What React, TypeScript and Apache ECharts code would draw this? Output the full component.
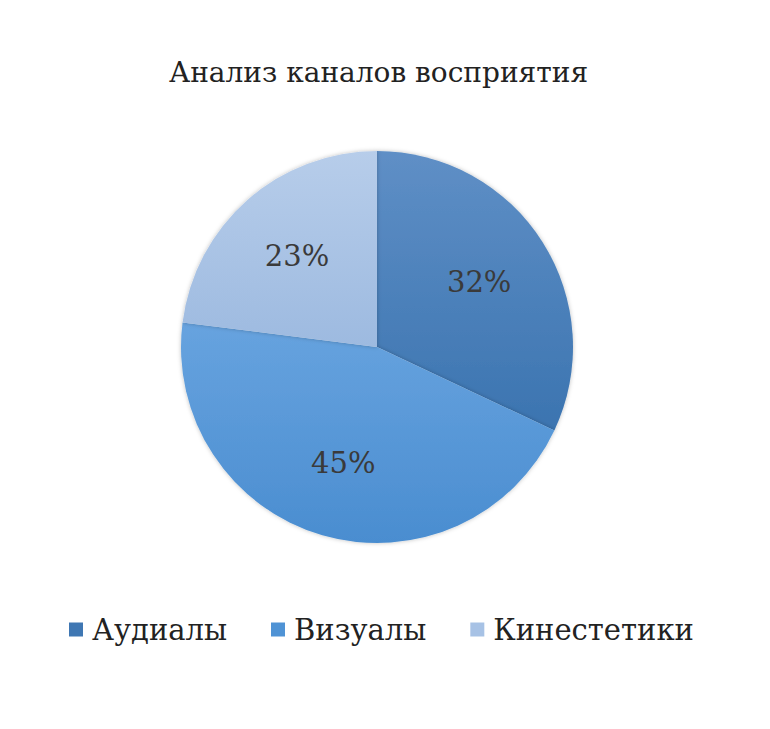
import React, { useEffect, useRef } from "react";
import * as echarts from "echarts";

const categories = ["Аудиалы", "Визуалы", "Кинестетики"];
const values = [32, 45, 23];
const topColors = ["#5f8fc6", "#67a3df", "#b7cdea"];
const bottomColors = ["#3b74b0", "#4a8dd0", "#9dbae0"];
const legendColors = ["#3f77b3", "#4f93d5", "#a7c2e5"];
const titleText = "Анализ каналов восприятия";

export default function App() {
  const ref = useRef<HTMLDivElement>(null);
  useEffect(() => {
    const chart = echarts.init(ref.current!, undefined, { renderer: "svg" });
    const serif = "DejaVu Serif";
    const data = categories.map((name, i) => ({
      name,
      value: values[i],
      itemStyle: {
        color: {
          type: "linear",
          x: 0,
          y: 0,
          x2: 0,
          y2: 1,
          colorStops: [
            { offset: 0, color: topColors[i] },
            { offset: 1, color: bottomColors[i] },
          ],
        },
      },
    }));
    chart.setOption({
      animation: false,
      backgroundColor: "#ffffff",
      title: {
        text: titleText,
        left: 164,
        top: 53,
        textStyle: {
          fontFamily: serif,
          fontSize: 28,
          fontWeight: "normal",
          color: "#222222",
        },
      },
      legend: {
        bottom: 80,
        left: 64,
        icon: "rect",
        itemWidth: 14,
        itemHeight: 14,
        itemGap: 44,
        data: categories.map((name, i) => ({
          name,
          itemStyle: { color: legendColors[i] },
        })),
        textStyle: {
          fontFamily: serif,
          fontSize: 29,
          color: "#222222",
          padding: [0, 0, 0, 4],
        },
      },
      series: [
        {
          type: "pie",
          center: [377, 347],
          radius: [0, 196],
          startAngle: 90,
          clockwise: true,
          data,
          label: { show: false },
          labelLine: { show: false },
          itemStyle: {
            borderWidth: 0,
            shadowBlur: 4,
            shadowColor: "rgba(0,0,0,0.25)",
          },
          emphasis: { disabled: true },
        },
        {
          type: "pie",
          center: [377, 347],
          radius: [0, 236],
          startAngle: 90,
          clockwise: true,
          silent: true,
          data: categories.map((name, i) => ({ name, value: values[i] })),
          itemStyle: { color: "rgba(0,0,0,0)", borderWidth: 0 },
          label: {
            show: true,
            position: "inside",
            formatter: "{c}%",
            fontFamily: serif,
            fontSize: 29,
            color: "#3a3a3a",
          },
          labelLine: { show: false },
          emphasis: { disabled: true },
        },
      ],
    });
    return () => chart.dispose();
  }, []);
  return (
    <div
      ref={ref}
      style={{ position: "absolute", left: 0, top: 0, width: 770, height: 729 }}
    />
  );
}
